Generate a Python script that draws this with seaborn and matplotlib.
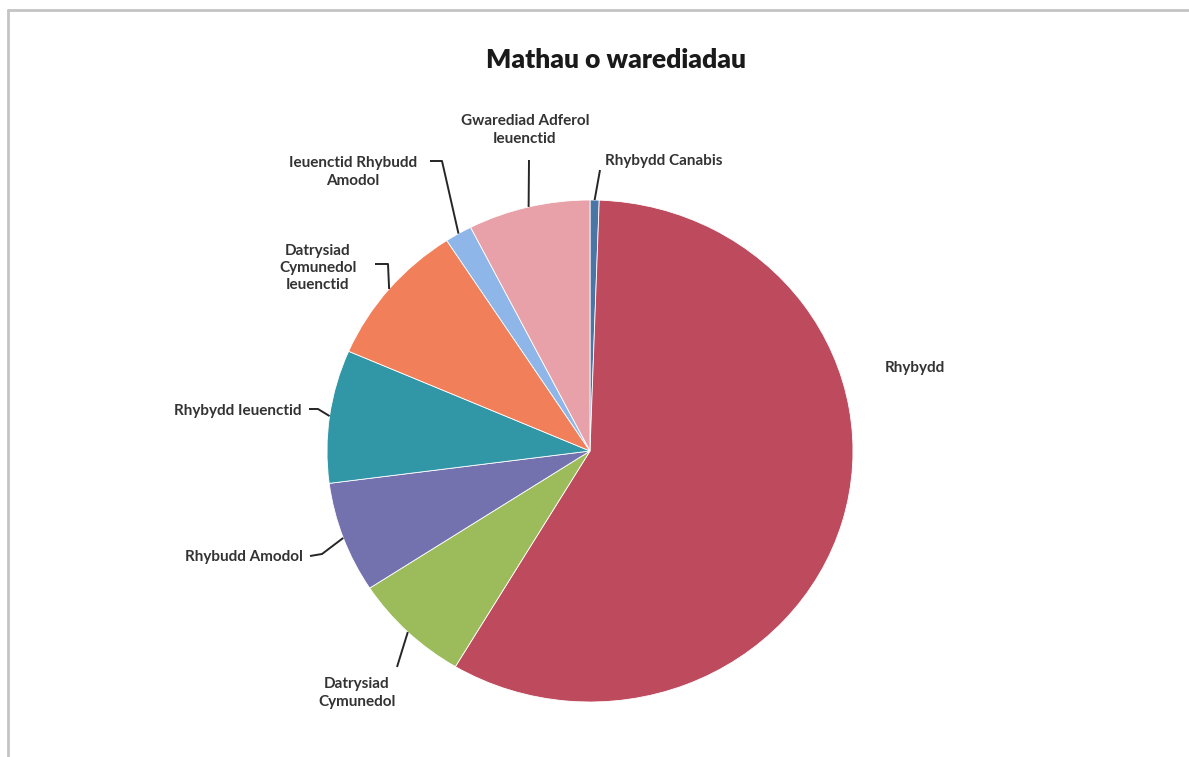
import numpy as np
import matplotlib
matplotlib.use('Agg')
import matplotlib.pyplot as plt
import seaborn as sns

# data (share of disposals, %)
categories = ['Rhybydd Canabis', 'Rhybydd', 'Datrysiad Cymunedol', 'Rhybudd Amodol',
              'Rhybydd Ieuenctid', 'Datrysiad Cymunedol Ieuenctid',
              'Ieuenctid Rhybudd Amodol', 'Gwarediad Adferol Ieuenctid']
values = [0.56, 58.0, 7.25, 7.14, 8.56, 9.33, 1.67, 7.5]
labels = ['Rhybydd Canabis', 'Rhybydd', 'Datrysiad\nCymunedol', 'Rhybudd Amodol',
          'Rhybydd Ieuenctid', 'Datrysiad\nCymunedol\nIeuenctid',
          'Ieuenctid Rhybudd\nAmodol', 'Gwarediad Adferol\nIeuenctid']
colors = ['#4A76A6', '#BE4A5E', '#9CBC5C', '#7371AE',
          '#3196A5', '#F07F5A', '#8EB6E8', '#E8A1A9']
title = 'Mathau o warediadau'

sns.set_theme(style='white')
plt.rcParams['font.family'] = ['Lato', 'DejaVu Sans']

W, H = 1189, 757
CX, CY, RX, RY = 590, 451, 263, 251   # pie centre / radii in pixels


def px(x, y):
    """figure pixels (from top-left) -> data coords"""
    return (x - CX) / RX, (CY - y) / RY


fig = plt.figure(figsize=(W / 100, H / 100), dpi=100)
ax = fig.add_axes([0, 0, 1, 1])
wedges, _ = ax.pie(values, colors=colors, startangle=90, counterclock=False,
                   wedgeprops=dict(edgecolor='white', linewidth=0.6))
ax.set_aspect('auto')
ax.set_xlim(px(0, 0)[0], px(W, 0)[0])
ax.set_ylim(px(0, H)[1], px(0, 0)[1])
ax.axis('off')

# label layout: text pos (px), alignment, leader start/elbow (px) or None
layout = [
    ((605, 161), 'left', [(600, 170)]),
    ((885, 368), 'left', None),
    ((357, 693), 'center', [(397, 667)]),
    ((303, 557), 'right', [(310, 556), (322, 554)]),
    ((302, 411), 'right', [(309, 409), (318, 409)]),
    ((318, 268), 'center', [(375, 264), (388, 264)]),
    ((353, 172), 'center', [(430, 161), (442, 161)]),
    ((525, 130), 'center', [(529, 160)]),
]

txt = '#333333'
for w, lab, (tpos, ha, lead) in zip(wedges, labels, layout):
    ax.text(*px(*tpos), lab, ha=ha, va='center', fontsize=11,
            fontweight='bold', color=txt, linespacing=1.3)
    if lead is None:
        continue
    mid = np.deg2rad((w.theta1 + w.theta2) / 2)
    pts = [px(*p) for p in lead] + [(np.cos(mid), np.sin(mid))]
    xs, ys = zip(*pts)
    ax.plot(xs, ys, color='#262626', lw=1.4, solid_capstyle='butt')

ax.text(*px(616, 60), title, ha='center', va='center', fontsize=19,
        fontweight='heavy', color='#1A1A1A')

# faint frame at top and left
ax.plot(*zip(px(8, 10), px(W, 10)), color='#C4C4C4', lw=2)
ax.plot(*zip(px(8, 10), px(8, H)), color='#C4C4C4', lw=2)

fig.savefig('out.png', dpi=100)
